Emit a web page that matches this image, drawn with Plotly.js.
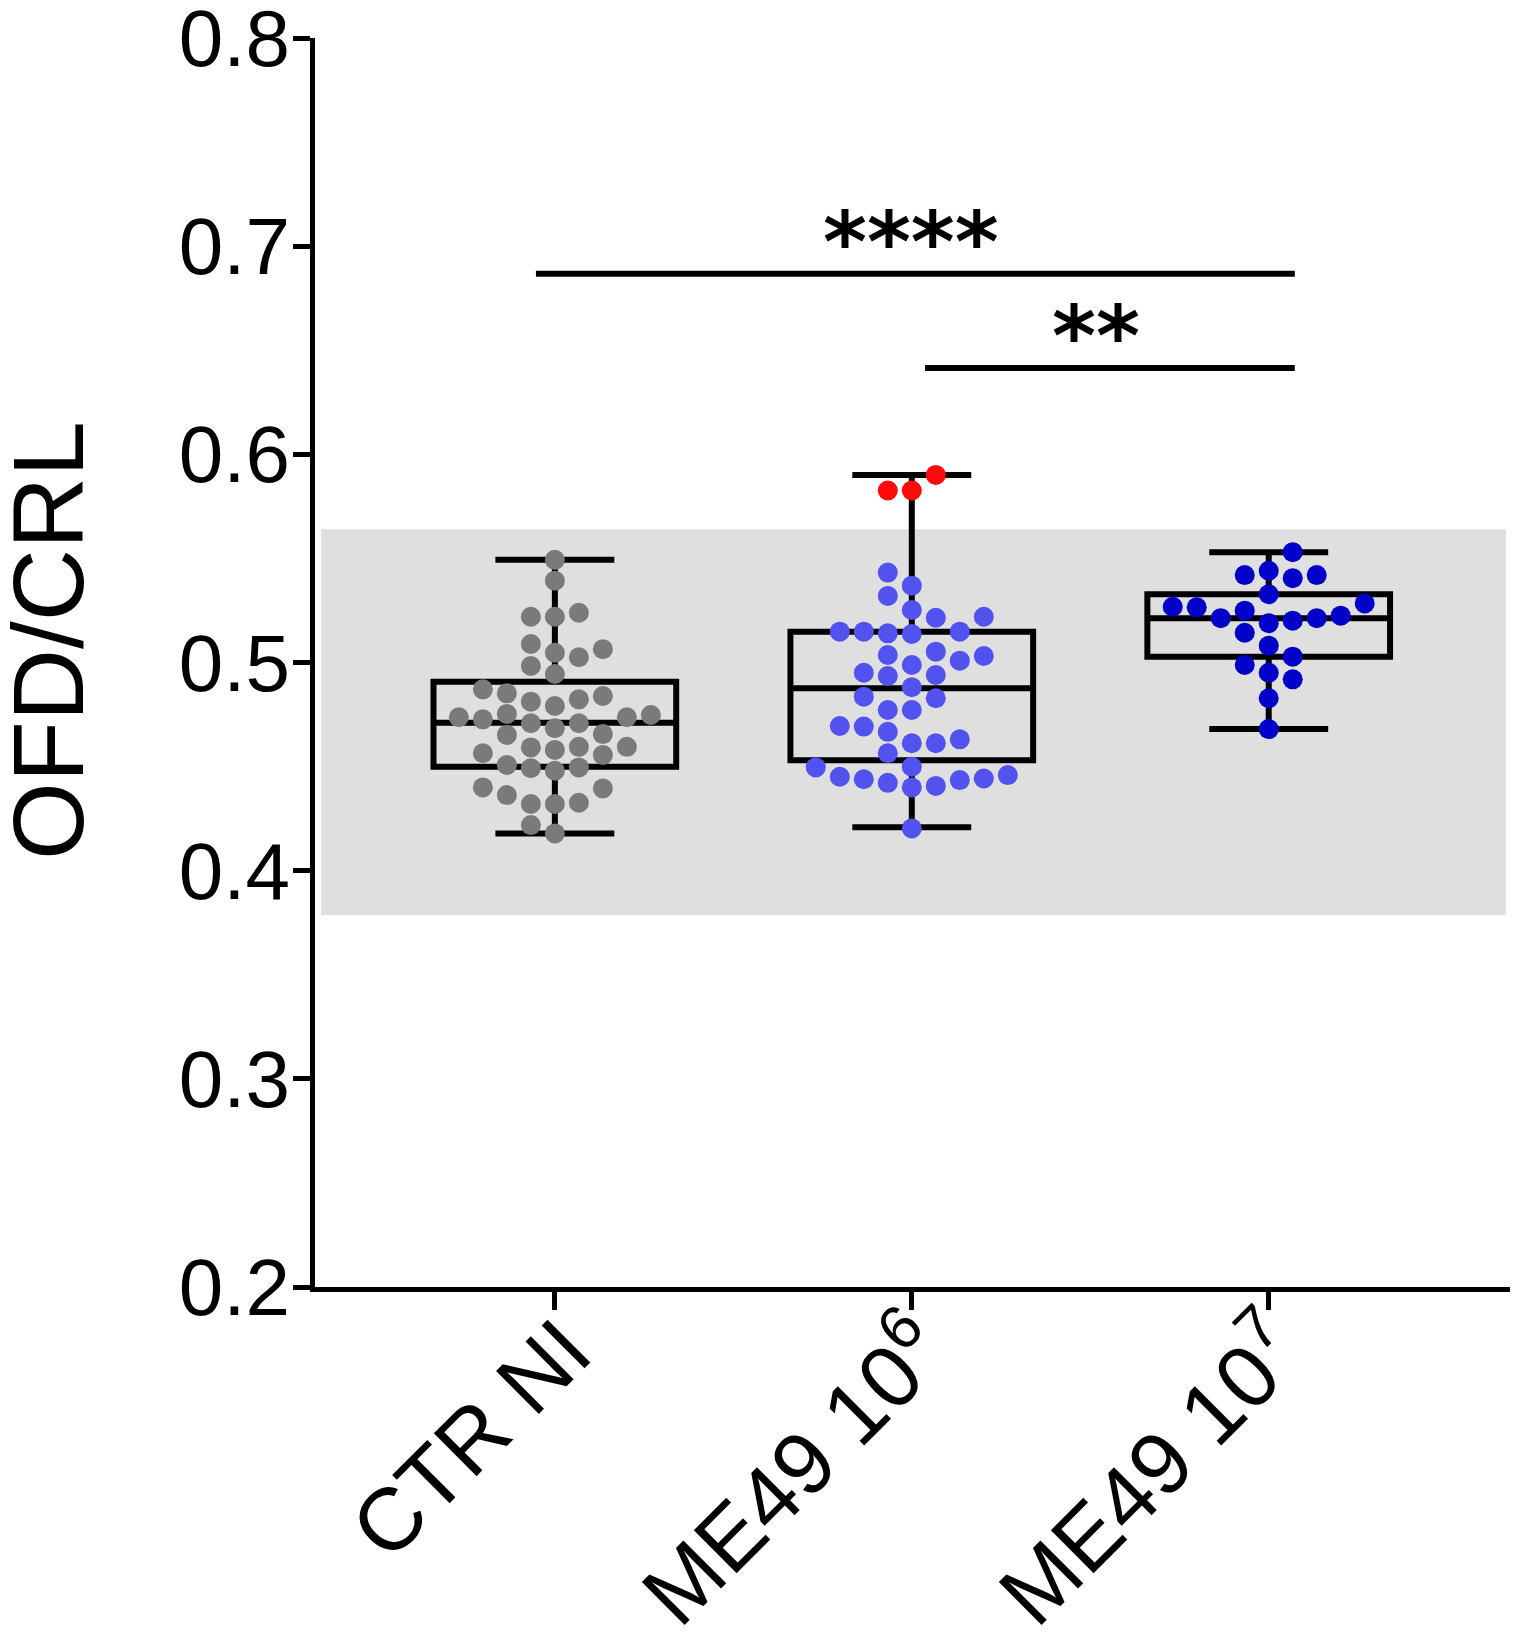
<!DOCTYPE html>
<html>
<head>
<meta charset="utf-8">
<script src="https://cdn.plot.ly/plotly-3.0.1.min.js"></script>
<style>html,body{margin:0;padding:0;background:#fff;}#chart{width:1517px;height:1638px;}</style>
</head>
<body>
<div id="chart"></div>
<script>
// ---- data ----
const categories = ['CTR NI', 'ME49 10<sup>6</sup>', 'ME49 10<sup>7</sup>'];
const ctrNI = [0.5493,0.5393,0.5239,0.5220,0.5220,0.5089,0.5047,0.5064,0.4983,0.5025,0.4945,0.4852,0.4823,0.4791,0.4812,0.4839,0.4871,0.4753,0.4737,0.4727,0.4708,0.4652,0.4656,0.4684,0.4708,0.4737,0.4748,0.4595,0.4580,0.4556,0.4564,0.4592,0.4595,0.4496,0.4480,0.4492,0.4508,0.4400,0.4363,0.4320,0.4320,0.4326,0.4395,0.4219,0.4179];
const me49_6 = [0.5432,0.5369,0.5320,0.5252,0.5215,0.5220,0.5148,0.5140,0.5137,0.5148,0.5148,0.5036,0.5009,0.4951,0.4935,0.4940,0.4988,0.5031,0.5052,0.4836,0.4772,0.4772,0.4828,0.4881,0.4695,0.4667,0.4612,0.4564,0.4612,0.4631,0.4692,0.4499,0.4459,0.4443,0.4435,0.4407,0.4400,0.4422,0.4439,0.4451,0.4496,0.4203];
const me49_6_red = [0.5901,0.5826,0.5826];
const me49_7 = [0.553,0.5405,0.5420,0.5420,0.5441,0.5328,0.5265,0.5284,0.5225,0.5213,0.5189,0.5201,0.5213,0.5249,0.5143,0.5081,0.4988,0.5028,0.4951,0.4919,0.4828,0.468,0.5268];
const boxQ1 = [0.4499, 0.4531, 0.5028];
const boxMedian = [0.4711, 0.4876, 0.5213];
const boxQ3 = [0.4908, 0.5148, 0.5328];
const boxLow = [0.4179, 0.4208, 0.468];
const boxHigh = [0.5493, 0.5901, 0.553];
const normalBand = [0.3787, 0.564];
const sigLabels = ['****', '**'];
const sigY = [0.6867, 0.6415];
const sigFrom = [0, 1];
const sigTo = [2, 2];
const yTickVals = [0.2,0.3,0.4,0.5,0.6,0.7,0.8];

// ---- layout constants ----
const W = 1517, H = 1638;
const M = {l: 315, r: 7, t: 38, b: 351};
const xr = [-0.672, 2.676], yr = [0.2, 0.8];
const pxPerX = (W - M.l - M.r) / (xr[1] - xr[0]);
const pxPerY = (H - M.t - M.b) / (yr[1] - yr[0]);
const MS = 20;
const SX = 24, SY = 20; // horizontal / vertical spacing for the dot swarm

// Prism-like dot swarm: rectangular collision, closest-to-centre slot
function swarm(values) {
  const idx = values.map((v, i) => i).sort((a, b) => values[a] - values[b]);
  const placed = [];
  const offs = new Array(values.length);
  idx.forEach((i, k) => {
    const y = values[i] * pxPerY;
    const forb = [];
    placed.forEach(p => {
      if (Math.abs(p.y - y) < SY) forb.push([p.x - SX, p.x + SX]);
    });
    const cands = [0];
    forb.forEach(f => { cands.push(f[0], f[1]); });
    const side = (k % 2 === 0) ? -1 : 1;
    cands.sort((a, b) => (Math.abs(a) - Math.abs(b)) || (side * (a - b)));
    let chosen = 0;
    for (const c of cands) {
      if (forb.every(f => c <= f[0] + 1e-6 || c >= f[1] - 1e-6)) { chosen = c; break; }
    }
    placed.push({x: chosen, y: y});
    offs[i] = chosen / pxPerX;
  });
  return offs;
}

const g1 = swarm(ctrNI);
const all6 = me49_6.concat(me49_6_red);
const g2 = swarm(all6);
const g3 = swarm(me49_7);

const traces = [
  {
    type: 'box', x: [0, 1, 2], q1: boxQ1, median: boxMedian, q3: boxQ3,
    lowerfence: boxLow, upperfence: boxHigh, boxpoints: false,
    width: 0.68, whiskerwidth: 0.49,
    line: {color: '#000', width: 6}, fillcolor: 'rgba(0,0,0,0)',
    hoverinfo: 'skip', showlegend: false
  },
  {
    type: 'scatter', mode: 'markers', x: ctrNI.map((v, i) => 0 + g1[i]), y: ctrNI,
    marker: {size: MS, color: '#7a7a7a'}, showlegend: false
  },
  {
    type: 'scatter', mode: 'markers', x: me49_6.map((v, i) => 1 + g2[i]), y: me49_6,
    marker: {size: MS, color: '#5252ee'}, showlegend: false
  },
  {
    type: 'scatter', mode: 'markers', x: me49_6_red.map((v, i) => 1 + g2[me49_6.length + i]), y: me49_6_red,
    marker: {size: MS, color: '#ff0a0a'}, showlegend: false
  },
  {
    type: 'scatter', mode: 'markers', x: me49_7.map((v, i) => 2 + g3[i]), y: me49_7,
    marker: {size: MS, color: '#0000c8'}, showlegend: false
  }
];

const shapes = [
  {type: 'rect', xref: 'paper', yref: 'y', x0: 0.005, x1: 0.9967, y0: normalBand[0], y1: normalBand[1],
   fillcolor: '#dfdfdf', line: {width: 0}, layer: 'below'}
];
const sigLeftPad = [-0.053, 0.037];
sigY.forEach((y, i) => {
  shapes.push({type: 'line', xref: 'x', yref: 'y', x0: sigFrom[i] + sigLeftPad[i], x1: sigTo[i] + 0.073, y0: y, y1: y,
               line: {color: '#000', width: 6}});
});

const annotations = [
  {text: 'OFD/CRL', xref: 'paper', yref: 'paper', x: (48 - M.l) / (W - M.l - M.r), y: (H - M.b - 641) / (H - M.t - M.b),
   xanchor: 'center', yanchor: 'middle', textangle: -90, showarrow: false,
   font: {family: 'Liberation Sans, Arial, sans-serif', size: 100, color: '#000'}}
];
sigY.forEach((y, i) => {
  const xm = i === 0 ? 0.997 : 1.515;
  annotations.push({text: sigLabels[i], xref: 'x', yref: 'y', x: xm, y: y - 0.009, xanchor: 'center', yanchor: 'bottom',
    showarrow: false, font: {family: 'DejaVu Sans, sans-serif', size: 84, color: '#000', weight: 'bold'}});
});

const layout = {
  width: W, height: H, margin: M,
  paper_bgcolor: '#fff', plot_bgcolor: '#fff',
  showlegend: false,
  font: {family: 'Liberation Sans, Arial, sans-serif', color: '#000'},
  xaxis: {
    range: xr, tickvals: [0, 1, 2], ticktext: categories, tickangle: -45,
    showline: true, linecolor: '#000', linewidth: 5, ticks: 'outside', ticklen: 18, tickwidth: 5, tickcolor: '#000',
    showgrid: false, zeroline: false, ticklabelstandoff: -46, ticklabelshift: 10, ticklabeloverflow: 'allow',
    tickfont: {size: 88, family: 'Liberation Sans, Arial, sans-serif', color: '#000'}
  },
  yaxis: {
    range: yr, tickvals: yTickVals, ticktext: yTickVals.map(v => v.toFixed(1)),
    showline: true, linecolor: '#000', linewidth: 5, ticks: 'outside', ticklen: 17, tickwidth: 5, tickcolor: '#000',
    showgrid: false, zeroline: false, ticklabelstandoff: -13, ticklabeloverflow: 'allow',
    tickfont: {size: 80, family: 'Liberation Sans, Arial, sans-serif', color: '#000'}
  },
  shapes: shapes,
  annotations: annotations
};

Plotly.newPlot('chart', traces, layout, {displayModeBar: false, staticPlot: true});
</script>
</body>
</html>
